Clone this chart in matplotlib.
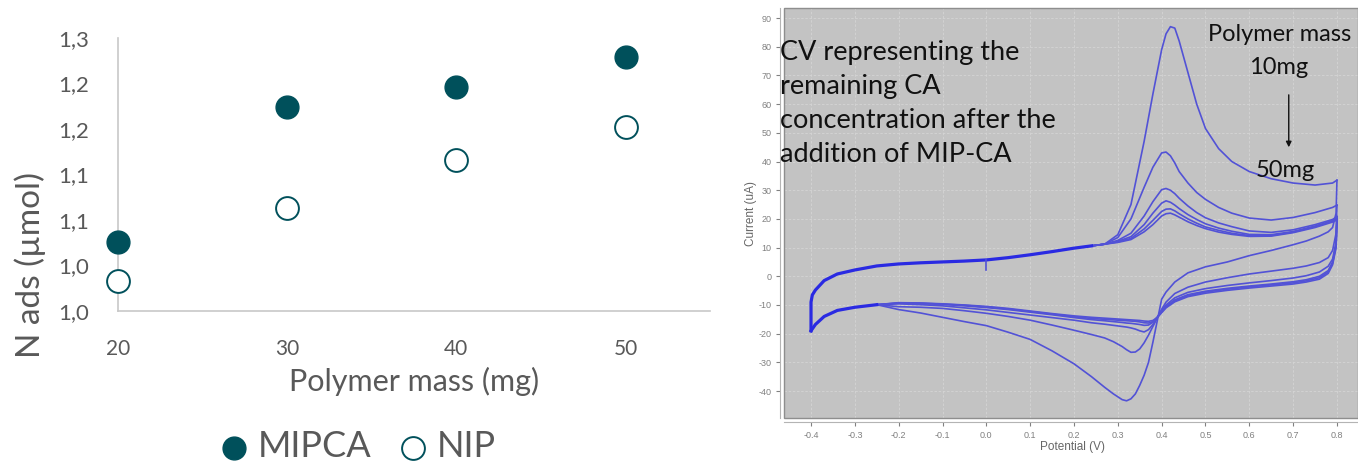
import matplotlib
matplotlib.use("Agg")
import matplotlib.pyplot as plt
from matplotlib.patches import Rectangle

# ---- left chart: adsorbed amount vs polymer mass ----
polymer_mass = [20, 30, 40, 50]
mipca_nads = [1.076, 1.224, 1.246, 1.279]
nip_nads = [1.033, 1.113, 1.166, 1.202]
mass_ticks = [20, 30, 40, 50]
nads_ticks = [1.00, 1.05, 1.10, 1.15, 1.20, 1.25, 1.30]
nads_tick_labels = ["1,0", "1,0", "1,1", "1,1", "1,2", "1,2", "1,3"]

# ---- right chart: cyclic voltammograms, polymer mass 10mg -> 50mg ----
# shared part of the anodic scan (all curves overlap here)
fwd_base_E = [-0.400, -0.400, -0.397, -0.390, -0.370, -0.340, -0.300, -0.250,
              -0.200, -0.150, -0.100, -0.050, 0.000, 0.050, 0.100, 0.150,
              0.200, 0.240]
fwd_base_I = [-19.0, -9.0, -6.5, -4.8, -1.5, 0.8, 2.2, 3.6, 4.3, 4.7, 5.0,
              5.3, 5.7, 6.5, 7.5, 8.6, 9.8, 10.6]
# shared end of the cathodic scan
rev_base_E = [-0.25, -0.30, -0.34, -0.37, -0.39, -0.40]
rev_base_I = [-9.9, -10.8, -11.9, -14.0, -16.8, -19.0]
# start-up spike at 0 V
spike_E = [0.0, 0.0]
spike_I = [5.7, 2.2]

fwd_tail_E = [0.27, 0.30, 0.33, 0.36, 0.38, 0.40, 0.41, 0.42, 0.43, 0.44,
              0.46, 0.48, 0.50, 0.53, 0.56, 0.60, 0.65, 0.70, 0.75, 0.79, 0.80]
fwd_I_1 = [11.2, 14.5, 25.0, 47.0, 63.5, 79.0, 84.5, 87.0, 86.5, 82.0, 71.0,
           60.0, 51.5, 44.5, 40.0, 36.5, 34.0, 32.5, 31.8, 32.5, 33.5]
fwd_I_2 = [11.2, 13.5, 20.0, 31.0, 38.0, 43.0, 43.3, 42.0, 39.5, 36.5, 32.5,
           29.2, 26.8, 24.0, 22.0, 20.3, 19.6, 20.5, 22.2, 24.0, 24.8]
fwd_I_3 = [11.2, 12.5, 15.0, 21.0, 26.0, 30.2, 30.6, 30.0, 28.8, 27.2, 24.5,
           22.2, 20.4, 18.6, 17.3, 15.8, 15.3, 16.2, 18.0, 19.8, 20.8]
fwd_I_4 = [11.2, 12.2, 13.8, 18.0, 22.0, 25.5, 26.3, 25.8, 24.8, 23.6, 21.5,
           19.8, 18.3, 16.8, 15.7, 14.6, 14.5, 15.6, 17.5, 19.4, 20.2]
fwd_I_5 = [11.2, 12.0, 13.2, 16.5, 19.5, 22.6, 23.4, 23.5, 22.8, 21.8, 20.0,
           18.5, 17.2, 16.0, 15.0, 14.2, 14.2, 15.4, 17.3, 19.2, 20.0]
fwd_I_6 = [11.2, 11.8, 12.8, 15.5, 18.0, 21.0, 21.8, 22.0, 21.4, 20.6, 19.0,
           17.7, 16.6, 15.4, 14.6, 13.9, 14.0, 15.2, 17.0, 18.9, 19.6]

rev_tail_E = [0.80, 0.798, 0.79, 0.78, 0.76, 0.73, 0.70, 0.65, 0.60, 0.55,
              0.50, 0.46, 0.43, 0.41, 0.40, 0.39, 0.38, 0.37, 0.36, 0.35,
              0.34, 0.33, 0.32, 0.31, 0.29, 0.27, 0.24, 0.20, 0.15, 0.10,
              0.05, 0.00, -0.05, -0.10, -0.15, -0.20]
rev_I_1 = [33.5, 22.0, 17.0, 15.5, 14.0, 12.3, 11.0, 9.0, 7.2, 5.0, 3.3, 1.2,
           -2.0, -5.5, -8.0, -15.5, -23.0, -30.0, -34.5, -38.0, -41.0, -42.7,
           -43.4, -43.0, -41.0, -38.7, -35.0, -30.5, -26.0, -22.0, -19.5,
           -17.2, -15.8, -14.3, -12.8, -11.6]
rev_I_2 = [24.8, 15.0, 9.0, 6.5, 4.8, 3.6, 2.8, 1.8, 0.8, -0.5, -2.0, -3.8,
           -6.0, -9.0, -11.5, -14.5, -17.5, -20.5, -23.2, -25.3, -26.4, -26.5,
           -25.6, -24.5, -22.8, -21.5, -20.3, -18.8, -17.0, -15.3, -14.0,
           -12.9, -12.0, -11.2, -10.8, -10.6]
rev_I_3 = [20.8, 12.0, 6.0, 3.5, 1.5, 0.2, -0.6, -1.5, -2.3, -3.2, -4.3, -5.6,
           -7.5, -10.0, -12.0, -14.5, -16.8, -18.6, -19.4, -19.0, -18.4, -18.0,
           -17.7, -17.5, -17.1, -16.7, -16.2, -15.3, -14.4, -13.5, -12.6,
           -11.7, -11.0, -10.3, -9.9, -9.6]
rev_I_4 = [20.2, 11.0, 5.0, 2.0, 0.0, -1.2, -1.9, -2.7, -3.4, -4.2, -5.2, -6.4,
           -8.2, -10.5, -12.2, -14.2, -16.0, -17.0, -17.1, -16.8, -16.6, -16.4,
           -16.3, -16.1, -15.8, -15.5, -15.1, -14.4, -13.4, -12.5, -11.6,
           -10.9, -10.3, -9.8, -9.5, -9.4]
rev_I_5 = [20.0, 10.5, 4.5, 1.5, -0.5, -1.6, -2.3, -3.0, -3.7, -4.5, -5.5,
           -6.8, -8.6, -10.8, -12.5, -14.3, -15.8, -16.3, -16.2, -15.9, -15.7,
           -15.6, -15.5, -15.4, -15.2, -15.0, -14.7, -14.1, -13.2, -12.3,
           -11.4, -10.7, -10.1, -9.7, -9.4, -9.3]
rev_I_6 = [19.6, 10.0, 4.0, 1.0, -1.0, -2.0, -2.7, -3.4, -4.1, -4.9, -5.9,
           -7.1, -8.9, -11.0, -12.7, -14.4, -15.4, -15.7, -15.6, -15.4, -15.3,
           -15.2, -15.1, -15.0, -14.8, -14.6, -14.3, -13.8, -13.0, -12.1,
           -11.2, -10.5, -10.0, -9.6, -9.3, -9.2]

cv_fwd = [fwd_I_1, fwd_I_2, fwd_I_3, fwd_I_4, fwd_I_5, fwd_I_6]
cv_rev = [rev_I_1, rev_I_2, rev_I_3, rev_I_4, rev_I_5, rev_I_6]
potential_ticks = [-0.4, -0.3, -0.2, -0.1, 0.0, 0.1, 0.2, 0.3, 0.4, 0.5, 0.6,
                   0.7, 0.8]
current_ticks = [-40, -30, -20, -10, 0, 10, 20, 30, 40, 50, 60, 70, 80, 90]

plt.rcParams['font.family'] = ['Lato', 'DejaVu Sans']
teal = '#00505B'
grey_text = '#595959'

fig = plt.figure(figsize=(13.58, 4.69), dpi=100)

# ---------------- left panel ----------------
ax1 = fig.add_axes([0.0869, 0.3369, 0.4360, 0.5821])
ax1.scatter(polymer_mass, mipca_nads, s=270, color=teal, zorder=3,
            clip_on=False, label='MIPCA')
ax1.scatter(polymer_mass, nip_nads, s=270, facecolor='white',
            edgecolor=teal, linewidth=1.4, zorder=3, clip_on=False,
            label='NIP')
ax1.set_xlim(20, 55)
ax1.set_ylim(1.0, 1.3)
ax1.set_xticks(mass_ticks)
ax1.set_yticks(nads_ticks)
ax1.set_yticklabels(nads_tick_labels)
for side in ['top', 'right']:
    ax1.spines[side].set_visible(False)
for side in ['left', 'bottom']:
    ax1.spines[side].set_color('#C8C8C8')
    ax1.spines[side].set_linewidth(1.2)
ax1.tick_params(axis='x', length=0, labelsize=15, colors=grey_text, pad=20)
ax1.tick_params(axis='y', length=0, labelsize=16, colors=grey_text, pad=21)
ax1.set_xlabel('Polymer mass (mg)', fontsize=22, color=grey_text)
ax1.xaxis.set_label_coords(0.5, -0.205)
ax1.set_ylabel('N ads (µmol)', fontsize=24, color=grey_text)
ax1.yaxis.set_label_coords(-0.122, 0.17)

fig.legend(*ax1.get_legend_handles_labels(), loc='center',
           bbox_to_anchor=(0.264, 0.048), ncol=2, frameon=False,
           fontsize=26, labelcolor=grey_text, handlelength=0.7,
           handletextpad=0.3, columnspacing=0.8, borderpad=0)

# ---------------- right panel ----------------
ax2 = fig.add_axes([0.5773, 0.1087, 0.4227, 0.8742])
ax2.set_facecolor('#C3C3C3')
line_col = '#5252D6'
for f_I, r_I in zip(cv_fwd, cv_rev):
    ax2.plot(fwd_base_E[-1:] + fwd_tail_E, fwd_base_I[-1:] + f_I,
             color=line_col, lw=1.2)
    ax2.plot(rev_tail_E + rev_base_E[:1], r_I + rev_base_I[:1],
             color=line_col, lw=1.2)
ax2.plot(fwd_base_E, fwd_base_I, color='#2A2AE2', lw=2.3)
ax2.plot(rev_base_E, rev_base_I, color='#2A2AE2', lw=2.3)
ax2.plot(spike_E, spike_I, color=line_col, lw=1.2)

ax2.set_xlim(-0.4617, 0.848)
ax2.set_ylim(-49.4, 93.5)
ax2.set_xticks(potential_ticks)
ax2.set_xticklabels([f'{v:.1f}' for v in potential_ticks])
ax2.set_yticks(current_ticks)
ax2.set_yticklabels([str(v) for v in current_ticks])
ax2.grid(True, color='#D4D4D4', linewidth=0.6, linestyle=(0, (3, 2)))
ax2.set_axisbelow(True)
for side in ['top', 'right']:
    ax2.spines[side].set_visible(False)
for side in ['left', 'bottom']:
    ax2.spines[side].set_position(('outward', 3))
    ax2.spines[side].set_color('#B4B4B4')
ax2.add_patch(Rectangle((0, 0), 1, 1, transform=ax2.transAxes, fill=False,
                        edgecolor='#8E8E8E', lw=1.0, clip_on=False))
ax2.tick_params(labelsize=6.5, colors='#808080', length=3, width=0.8, pad=3)
for lab in ax2.get_xticklabels() + ax2.get_yticklabels():
    lab.set_family('Liberation Sans')
ax2.set_xlabel('Potential (V)', fontsize=8.5, color='#666666',
               family='Liberation Sans')
ax2.xaxis.set_label_coords(0.5035, -0.056)
ax2.set_ylabel('Current (uA)', fontsize=8.5, color='#666666',
               family='Liberation Sans')
ax2.yaxis.set_label_coords(-0.047, 0.5)

fig.text(0.5744, 0.915,
         'CV representing the\nremaining CA\nconcentration after the\n'
         'addition of MIP-CA',
         fontsize=19.5, ha='left', va='top', color='#111111', linespacing=1.45)
ax2.text(0.669, 84.1, 'Polymer mass', fontsize=17, ha='center', va='center',
         color='#111111')
ax2.text(0.667, 72.9, '10mg', fontsize=17, ha='center', va='center',
         color='#111111')
ax2.text(0.683, 37.0, '50mg', fontsize=17, ha='center', va='center',
         color='#111111')
ax2.annotate('', xy=(0.690, 44.0), xytext=(0.690, 64.2),
             arrowprops=dict(arrowstyle='-|>', color='#111111', lw=1.0,
                             mutation_scale=8))

fig.savefig('out.png', dpi=100)
